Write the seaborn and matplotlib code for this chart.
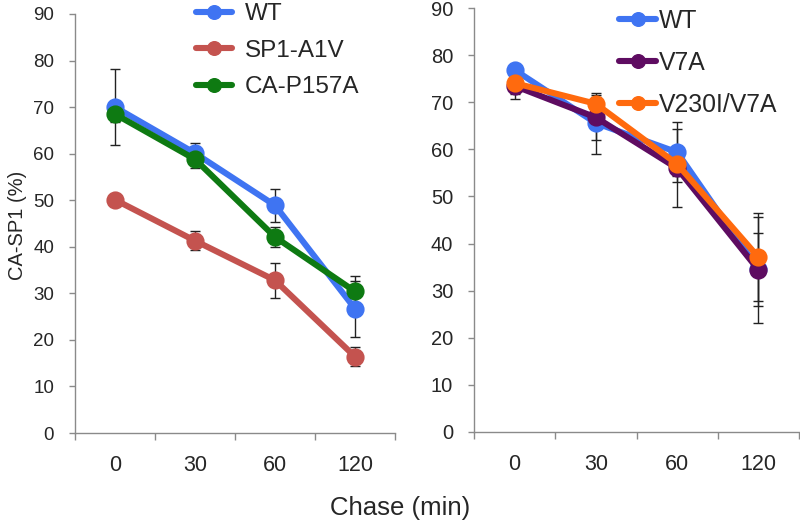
import numpy as np
import pandas as pd
import matplotlib
matplotlib.use("Agg")
import matplotlib.pyplot as plt
from matplotlib import font_manager
from matplotlib.lines import Line2D
import seaborn as sns

# ---------------- data ----------------
chase = ["0", "30", "60", "120"]

left_series = ["WT", "SP1-A1V", "CA-P157A"]
left_wt = [70.0, 60.1, 48.9, 26.7]
left_wt_err = [8.2, 2.1, 3.5, 6.0]
left_sp1 = [50.1, 41.3, 32.8, 16.4]
left_sp1_err = [0.8, 2.0, 3.8, 2.0]
left_ca = [68.5, 58.8, 42.1, 30.4]
left_ca_err = [1.7, 1.8, 2.1, 3.4]

right_series = ["WT", "V7A", "V230I/V7A"]
right_wt = [76.9, 65.6, 59.4, 34.5]
right_wt_err = [1.0, 6.5, 6.4, 7.7]
right_v7a = [73.5, 66.8, 56.0, 34.4]
right_v7a_err = [2.8, 4.8, 8.3, 11.2]
right_v230 = [74.1, 69.7, 56.9, 37.1]
right_v230_err = [2.4, 1.5, 2.5, 9.3]

colors = {"WT": "#3F74F2", "SP1-A1V": "#C4534F", "CA-P157A": "#0E7A12",
          "V7A": "#5E0C61", "V230I/V7A": "#FF6A0E"}

# ---------------- style ----------------
sns.set_style("white")
plt.rcParams["font.family"] = ["Liberation Sans", "DejaVu Sans"]
names = {f.name for f in font_manager.fontManager.ttflist}
narrow = "Liberation Sans Narrow" if "Liberation Sans Narrow" in names else "Liberation Sans"

fig = plt.figure(figsize=(8.0, 5.28), dpi=100)
W, H = 800.0, 528.0
ax1 = fig.add_axes([75 / W, (H - 433) / H, 320 / W, 419 / H])
ax2 = fig.add_axes([474 / W, (H - 431.7) / H, 325 / W, 423.4 / H])

spine_col = "#8A8A8A"


def panel(ax, series, vals, errs, ylabsize):
    df = pd.DataFrame({
        "chase": chase * len(series),
        "value": sum(vals, []),
        "series": np.repeat(series, len(chase)),
    })
    # error bars first (behind)
    for s, v, e in zip(series, vals, errs):
        ax.errorbar(np.arange(len(chase)), v, yerr=e, fmt="none",
                    ecolor="#222222", elinewidth=1.0, capsize=3.5,
                    capthick=1.0, zorder=1)
    sns.pointplot(data=df, x="chase", y="value", hue="series", order=chase,
                  hue_order=series, palette=[colors[s] for s in series],
                  markers="o", linestyles="-", errorbar=None, ax=ax,
                  markersize=9.8, linewidth=4.4, legend=False)
    for ln in ax.lines:
        ln.set_zorder(3)
    ax.set_xlim(-0.5, len(chase) - 0.5)
    ax.set_ylim(0, 90)
    ax.set_yticks(np.arange(0, 91, 10))
    ax.set_xticks(np.arange(-0.5, len(chase), 1.0))
    ax.set_xticklabels([])
    ax.set_xticks(np.arange(len(chase)), minor=True)
    ax.set_xticklabels(chase, minor=True, fontsize=15.5, fontfamily=narrow)
    ax.tick_params(axis="x", which="major", direction="out", length=5,
                   width=1, color=spine_col, bottom=True)
    ax.tick_params(axis="x", which="minor", length=0, pad=16)
    ax.tick_params(axis="y", direction="out", length=4, width=1,
                   color=spine_col, left=True, pad=11, labelsize=ylabsize)
    for sp in ["top", "right"]:
        ax.spines[sp].set_visible(False)
    for sp in ["left", "bottom"]:
        ax.spines[sp].set_color(spine_col)
        ax.spines[sp].set_linewidth(1.0)
    ax.set_xlabel("")
    ax.set_ylabel("")
    handles = [Line2D([0], [0], color=colors[s], lw=4.4, marker="o",
                      markersize=9.8) for s in series]
    return handles


h1 = panel(ax1, left_series, [left_wt, left_sp1, left_ca],
           [left_wt_err, left_sp1_err, left_ca_err], 13.5)
h2 = panel(ax2, right_series, [right_wt, right_v7a, right_v230],
           [right_wt_err, right_v7a_err, right_v230_err], 14.5)

fig.legend(h1, left_series, loc="upper left", bbox_to_anchor=(196 / W, 1 - 3 / H),
           frameon=False, fontsize=17.5, handlelength=1.5, handletextpad=0.5,
           labelspacing=0.6, borderpad=0, borderaxespad=0)
fig.legend(h2, right_series, loc="upper left", bbox_to_anchor=(619 / W, 1 - 9 / H),
           frameon=False, fontsize=17.8, handlelength=1.5, handletextpad=0.1,
           labelspacing=0.72, borderpad=0, borderaxespad=0)

fig.text(18 / W, 1 - 225 / H, "CA-SP1 (%)", rotation=90, ha="center",
         va="center", fontsize=14.5)
fig.text(400 / W, 1 - 508 / H, "Chase (min)", ha="center", va="center",
         fontsize=18.5, fontfamily=narrow)

fig.savefig("out.png", dpi=100)
